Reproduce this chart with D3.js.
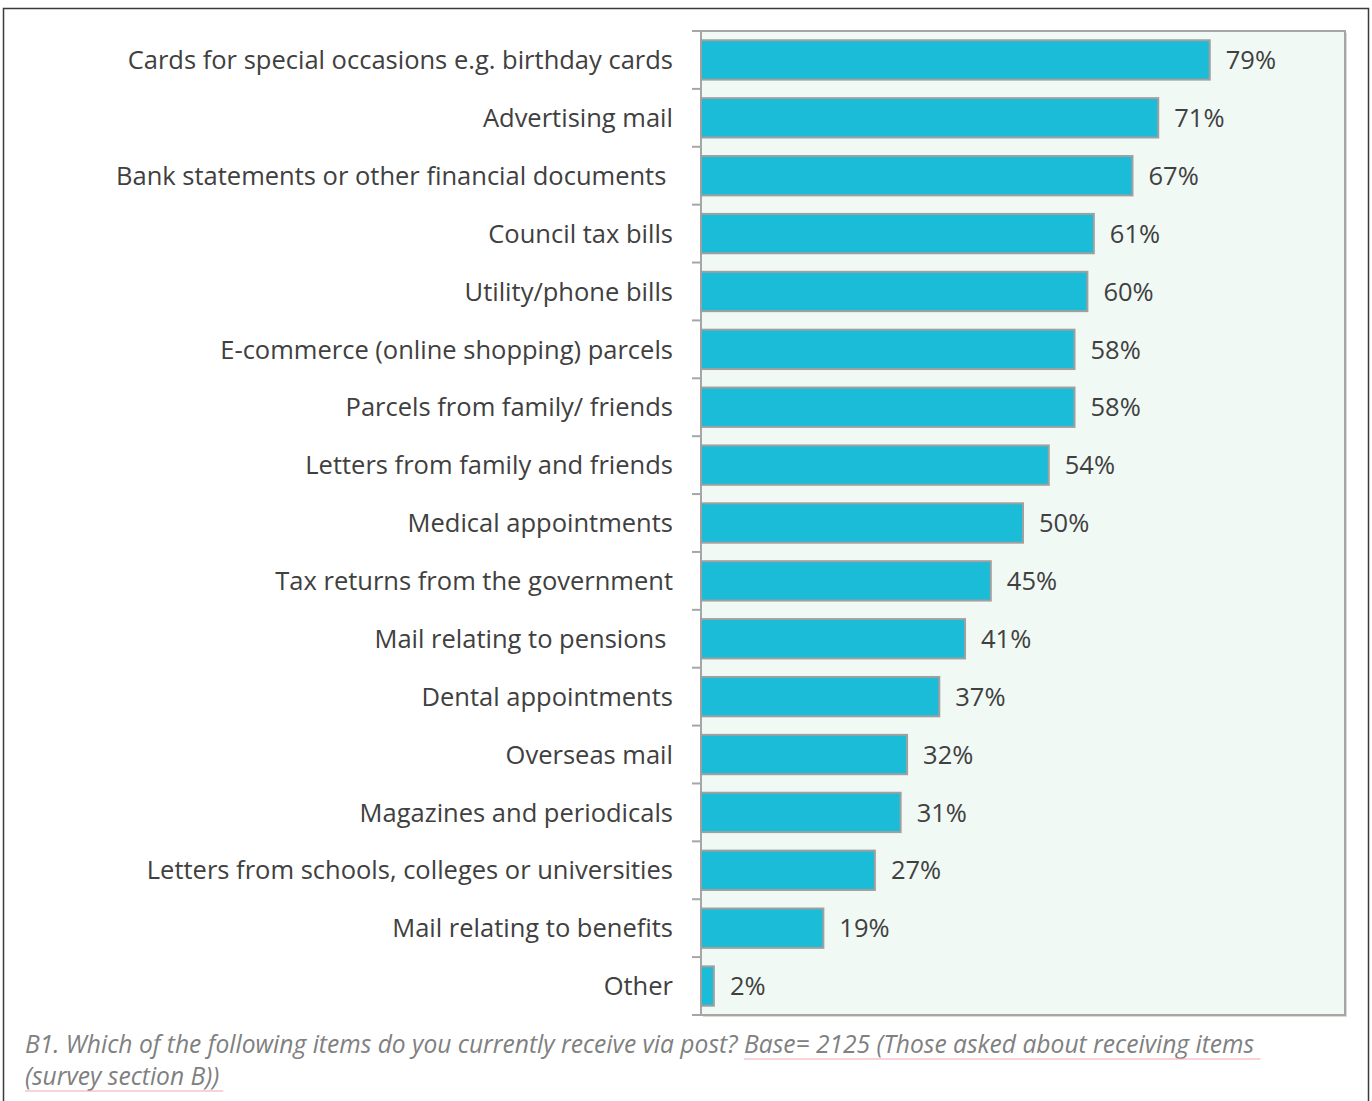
<!DOCTYPE html>
<html>
<head>
<meta charset="utf-8">
<script src="https://cdn.jsdelivr.net/npm/d3@7"></script>
<style>
  body { margin: 0; background: #fff; }
  text { font-family: "Open Sans", sans-serif; }
</style>
</head>
<body>
<script>
// categories, top to bottom (some source labels carry a trailing space)
var categories = [
    "Cards for special occasions e.g. birthday cards",
    "Advertising mail",
    "Bank statements or other financial documents ",
    "Council tax bills",
    "Utility/phone bills",
    "E-commerce (online shopping) parcels",
    "Parcels from family/ friends",
    "Letters from family and friends",
    "Medical appointments",
    "Tax returns from the government",
    "Mail relating to pensions ",
    "Dental appointments",
    "Overseas mail",
    "Magazines and periodicals",
    "Letters from schools, colleges or universities",
    "Mail relating to benefits",
    "Other"
];
var values = [79, 71, 67, 61, 60, 58, 58, 54, 50, 45, 41, 37, 32, 31, 27, 19, 2];
var footLine1 = "B1. Which of the following items do you currently receive via post? ";
var footLine1b = "Base= 2125 (Those asked about receiving items ";
var footLine2 = "(survey section B))";

var W = 1372, H = 1101;
var plot = {left: 701, top: 31, right: 1345, bottom: 1015};

var svg = d3.select("body").append("svg")
    .attr("width", W).attr("height", H);

// outer frame
svg.append("rect")
    .attr("x", 3.5).attr("y", 8.5)
    .attr("width", 1365).attr("height", 1110)
    .attr("fill", "none").attr("stroke", "#3a3a3a").attr("stroke-width", 1.5);

var x = d3.scaleLinear().domain([0, 100]).range([plot.left, plot.right]);
var y = d3.scaleBand().domain(d3.range(categories.length))
    .range([plot.top, plot.bottom]).paddingInner(0.32).paddingOuter(0.16);

// plot area with a faint shadow
svg.append("rect")
    .attr("x", plot.left + 2).attr("y", plot.top + 2)
    .attr("width", plot.right - plot.left).attr("height", plot.bottom - plot.top)
    .attr("fill", "#d9d9d9");
svg.append("rect")
    .attr("x", plot.left).attr("y", plot.top)
    .attr("width", plot.right - plot.left).attr("height", plot.bottom - plot.top)
    .attr("fill", "#f1f9f5").attr("stroke", "#a6a6a6").attr("stroke-width", 2);

// category axis with ticks between bands
var step = (plot.bottom - plot.top) / categories.length;
var g = svg.append("g");
g.selectAll("line.tick")
    .data(d3.range(categories.length + 1))
    .enter().append("line")
    .attr("x1", plot.left - 9).attr("x2", plot.left)
    .attr("y1", function(d) { return plot.top + d * step; })
    .attr("y2", function(d) { return plot.top + d * step; })
    .attr("stroke", "#a6a6a6").attr("stroke-width", 2);
g.append("line")
    .attr("x1", plot.left).attr("x2", plot.left)
    .attr("y1", plot.top).attr("y2", plot.bottom)
    .attr("stroke", "#a6a6a6").attr("stroke-width", 2);

// bars
svg.selectAll("rect.bar")
    .data(values)
    .enter().append("rect")
    .attr("class", "bar")
    .attr("x", x(0))
    .attr("y", function(d, i) { return y(i); })
    .attr("width", function(d) { return x(d) - x(0); })
    .attr("height", y.bandwidth())
    .attr("fill", "#1bbcd8")
    .attr("stroke", "#a0a0a0").attr("stroke-width", 2);

// value labels
svg.selectAll("text.val")
    .data(values)
    .enter().append("text")
    .attr("x", function(d) { return x(d) + 16; })
    .attr("y", function(d, i) { return y(i) + y.bandwidth() / 2; })
    .attr("dy", "0.36em")
    .attr("font-size", 25.5)
    .attr("fill", "#404040")
    .text(function(d) { return d + "%"; });

// category labels
svg.selectAll("text.cat")
    .data(categories)
    .enter().append("text")
    .attr("x", 673)
    .attr("y", function(d, i) { return y(i) + y.bandwidth() / 2; })
    .attr("dy", "0.36em")
    .attr("text-anchor", "end")
    .attr("font-size", 25.5)
    .attr("fill", "#404040")
    .style("white-space", "pre")
    .text(function(d) { return d; });

// footnote
var foot = svg.append("text")
    .attr("x", 25).attr("y", 1053)
    .attr("font-size", 24.6).attr("font-style", "italic")
    .attr("fill", "#808080")
    .style("white-space", "pre");
foot.append("tspan").text(footLine1);
var base = foot.append("tspan").text(footLine1b);
var foot2 = svg.append("text")
    .attr("x", 25).attr("y", 1085)
    .attr("font-size", 24.6).attr("font-style", "italic")
    .attr("fill", "#808080")
    .text(footLine2);

// pink underline for the tracked part
var b1 = base.node().getExtentOfChar(0);
var f1 = foot.node().getBBox();
svg.append("line")
    .attr("x1", b1.x).attr("x2", f1.x + f1.width)
    .attr("y1", 1059).attr("y2", 1059)
    .attr("stroke", "#f4a6b0").attr("stroke-width", 1);
var f2 = foot2.node().getBBox();
svg.append("line")
    .attr("x1", f2.x).attr("x2", f2.x + f2.width + 4)
    .attr("y1", 1091).attr("y2", 1091)
    .attr("stroke", "#f4a6b0").attr("stroke-width", 1);
</script>
</body>
</html>
